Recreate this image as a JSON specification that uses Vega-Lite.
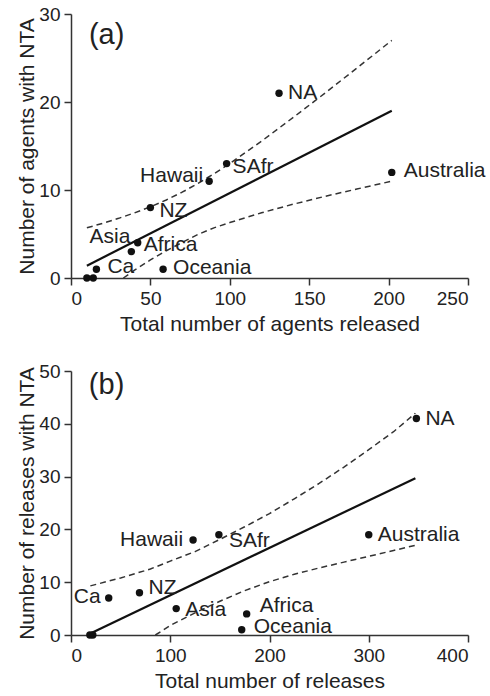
{
  "$schema": "https://vega.github.io/schema/vega-lite/v6.json",
  "background": "white",
  "padding": {"left": 16, "top": 5, "right": 0, "bottom": 5},
  "spacing": 28,
  "config": {
    "font": "Liberation Sans",
    "view": {"stroke": null},
    "axis": {
      "grid": false,
      "domainColor": "#333",
      "domainWidth": 1.5,
      "tickColor": "#333",
      "tickWidth": 1.5,
      "tickSize": 7,
      "labelFont": "Liberation Sans",
      "labelFontSize": 19,
      "labelColor": "#222",
      "labelPadding": 4,
      "titleFont": "Liberation Sans",
      "titleFontSize": 21,
      "titleFontWeight": "normal",
      "titleColor": "#222"
    },
    "text": {"font": "Liberation Sans", "fontSize": 21, "color": "#222", "baseline": "middle"}
  },
  "datasets": {
    "a_pts": [
      {"region": null, "agents": 10, "nta": 0},
      {"region": null, "agents": 14, "nta": 0},
      {"region": "Ca", "agents": 16, "nta": 1},
      {"region": "Asia", "agents": 38, "nta": 3},
      {"region": "Africa", "agents": 42, "nta": 4},
      {"region": "NZ", "agents": 50, "nta": 8},
      {"region": "Oceania", "agents": 58, "nta": 1},
      {"region": "Hawaii", "agents": 87, "nta": 11},
      {"region": "SAfr", "agents": 98, "nta": 13},
      {"region": "NA", "agents": 131, "nta": 21},
      {"region": "Australia", "agents": 202, "nta": 12}
    ],
    "a_fit": [
      {"agents": 10, "nta": 1.4},
      {"agents": 202, "nta": 19}
    ],
    "a_band": [
      {"curve": "upper", "agents": 10, "nta": 5.7},
      {"curve": "upper", "agents": 20, "nta": 6.22},
      {"curve": "upper", "agents": 30, "nta": 6.78},
      {"curve": "upper", "agents": 40, "nta": 7.4},
      {"curve": "upper", "agents": 50, "nta": 8.09},
      {"curve": "upper", "agents": 60, "nta": 8.87},
      {"curve": "upper", "agents": 70, "nta": 9.75},
      {"curve": "upper", "agents": 80, "nta": 10.75},
      {"curve": "upper", "agents": 90, "nta": 11.84},
      {"curve": "upper", "agents": 100, "nta": 13.02},
      {"curve": "upper", "agents": 120, "nta": 15.55},
      {"curve": "upper", "agents": 140, "nta": 18.25},
      {"curve": "upper", "agents": 160, "nta": 21.02},
      {"curve": "upper", "agents": 180, "nta": 23.85},
      {"curve": "upper", "agents": 202, "nta": 27.0},
      {"curve": "lower", "agents": 33, "nta": 0},
      {"curve": "lower", "agents": 40, "nta": 0.9},
      {"curve": "lower", "agents": 50, "nta": 2.05},
      {"curve": "lower", "agents": 60, "nta": 3.1},
      {"curve": "lower", "agents": 70, "nta": 4.04},
      {"curve": "lower", "agents": 80, "nta": 4.95},
      {"curve": "lower", "agents": 90, "nta": 5.7},
      {"curve": "lower", "agents": 100, "nta": 6.3},
      {"curve": "lower", "agents": 120, "nta": 7.41},
      {"curve": "lower", "agents": 140, "nta": 8.39},
      {"curve": "lower", "agents": 160, "nta": 9.28},
      {"curve": "lower", "agents": 180, "nta": 10.11},
      {"curve": "lower", "agents": 202, "nta": 11.0}
    ],
    "a_tag": [
      {"panel": "(a)", "agents": 11.3, "nta": 27.6}
    ],
    "b_pts": [
      {"region": null, "releases": 19, "nta": 0},
      {"region": null, "releases": 22, "nta": 0},
      {"region": "Ca", "releases": 38, "nta": 7},
      {"region": "NZ", "releases": 69, "nta": 8},
      {"region": "Asia", "releases": 106, "nta": 5},
      {"region": "Hawaii", "releases": 123, "nta": 18},
      {"region": "SAfr", "releases": 149, "nta": 19},
      {"region": "Oceania", "releases": 172, "nta": 1},
      {"region": "Africa", "releases": 177, "nta": 4},
      {"region": "Australia", "releases": 300, "nta": 19},
      {"region": "NA", "releases": 348, "nta": 41}
    ],
    "b_fit": [
      {"releases": 19.5, "nta": 0.3},
      {"releases": 347, "nta": 29.7}
    ],
    "b_band": [
      {"curve": "upper", "releases": 19.5, "nta": 9.3},
      {"curve": "upper", "releases": 50, "nta": 10.8},
      {"curve": "upper", "releases": 80, "nta": 12.5},
      {"curve": "upper", "releases": 100, "nta": 14.0},
      {"curve": "upper", "releases": 125, "nta": 15.8},
      {"curve": "upper", "releases": 150, "nta": 18.1},
      {"curve": "upper", "releases": 175, "nta": 20.5},
      {"curve": "upper", "releases": 200, "nta": 23.0},
      {"curve": "upper", "releases": 225, "nta": 25.8},
      {"curve": "upper", "releases": 250, "nta": 28.7},
      {"curve": "upper", "releases": 275, "nta": 31.8},
      {"curve": "upper", "releases": 300, "nta": 35.1},
      {"curve": "upper", "releases": 325, "nta": 38.5},
      {"curve": "upper", "releases": 347, "nta": 42.0},
      {"curve": "lower", "releases": 85, "nta": 0},
      {"curve": "lower", "releases": 100, "nta": 1.8},
      {"curve": "lower", "releases": 125, "nta": 4.2},
      {"curve": "lower", "releases": 150, "nta": 6.4},
      {"curve": "lower", "releases": 175, "nta": 8.4},
      {"curve": "lower", "releases": 200, "nta": 10.1},
      {"curve": "lower", "releases": 225, "nta": 11.5},
      {"curve": "lower", "releases": 250, "nta": 12.7},
      {"curve": "lower", "releases": 275, "nta": 13.8},
      {"curve": "lower", "releases": 300, "nta": 14.9},
      {"curve": "lower", "releases": 325, "nta": 16.0},
      {"curve": "lower", "releases": 347, "nta": 17.0}
    ],
    "b_tag": [
      {"panel": "(b)", "releases": 18, "nta": 47.4}
    ]
  },
  "vconcat": [
    {
      "width": 397,
      "height": 264,
      "encoding": {
        "x": {"field": "agents", "type": "quantitative", "scale": {"domain": [0, 250], "nice": false},
              "axis": {"values": [0, 50, 100, 150, 200, 250], "title": "Total number of agents released", "titlePadding": 5}},
        "y": {"field": "nta", "type": "quantitative", "scale": {"domain": [0, 30], "nice": false},
              "axis": {"values": [0, 10, 20, 30], "title": "Number of agents with NTA", "titlePadding": 1}}
      },
      "layer": [
        {"data": {"name": "a_band"}, "mark": {"type": "line", "color": "#333", "strokeWidth": 1.5, "strokeDash": [6, 4]},
         "encoding": {"detail": {"field": "curve"}}},
        {"data": {"name": "a_fit"}, "mark": {"type": "line", "color": "#111", "strokeWidth": 2.2}},
        {"data": {"name": "a_pts"}, "mark": {"type": "circle", "color": "#111", "opacity": 1, "size": 55}},
        {"data": {"name": "a_pts"}, "transform": [{"filter": "datum.region == 'NA'"}],
         "mark": {"type": "text", "align": "left", "dx": 9, "dy": 0}, "encoding": {"text": {"field": "region"}}},
        {"data": {"name": "a_pts"}, "transform": [{"filter": "datum.region == 'SAfr'"}],
         "mark": {"type": "text", "align": "left", "dx": 6, "dy": 3}, "encoding": {"text": {"field": "region"}}},
        {"data": {"name": "a_pts"}, "transform": [{"filter": "datum.region == 'Hawaii'"}],
         "mark": {"type": "text", "align": "right", "dx": -6, "dy": -5}, "encoding": {"text": {"field": "region"}}},
        {"data": {"name": "a_pts"}, "transform": [{"filter": "datum.region == 'NZ'"}],
         "mark": {"type": "text", "align": "left", "dx": 9, "dy": 3}, "encoding": {"text": {"field": "region"}}},
        {"data": {"name": "a_pts"}, "transform": [{"filter": "datum.region == 'Asia'"}],
         "mark": {"type": "text", "align": "right", "dx": -1, "dy": -15}, "encoding": {"text": {"field": "region"}}},
        {"data": {"name": "a_pts"}, "transform": [{"filter": "datum.region == 'Africa'"}],
         "mark": {"type": "text", "align": "left", "dx": 6, "dy": 2}, "encoding": {"text": {"field": "region"}}},
        {"data": {"name": "a_pts"}, "transform": [{"filter": "datum.region == 'Ca'"}],
         "mark": {"type": "text", "align": "left", "dx": 11, "dy": -2}, "encoding": {"text": {"field": "region"}}},
        {"data": {"name": "a_pts"}, "transform": [{"filter": "datum.region == 'Oceania'"}],
         "mark": {"type": "text", "align": "left", "dx": 10, "dy": -1}, "encoding": {"text": {"field": "region"}}},
        {"data": {"name": "a_pts"}, "transform": [{"filter": "datum.region == 'Australia'"}],
         "mark": {"type": "text", "align": "left", "dx": 12, "dy": -1}, "encoding": {"text": {"field": "region"}}},
        {"data": {"name": "a_tag"},
         "mark": {"type": "text", "align": "left", "fontSize": 29},
         "encoding": {"text": {"field": "panel"}}}
      ]
    },
    {
      "width": 397,
      "height": 264,
      "encoding": {
        "x": {"field": "releases", "type": "quantitative", "scale": {"domain": [0, 400], "nice": false},
              "axis": {"values": [0, 100, 200, 300, 400], "title": "Total number of releases", "titlePadding": 5}},
        "y": {"field": "nta", "type": "quantitative", "scale": {"domain": [0, 50], "nice": false},
              "axis": {"values": [0, 10, 20, 30, 40, 50], "title": "Number of releases with NTA", "titlePadding": 1}}
      },
      "layer": [
        {"data": {"name": "b_band"}, "mark": {"type": "line", "color": "#333", "strokeWidth": 1.5, "strokeDash": [6, 4]},
         "encoding": {"detail": {"field": "curve"}}},
        {"data": {"name": "b_fit"}, "mark": {"type": "line", "color": "#111", "strokeWidth": 2.2}},
        {"data": {"name": "b_pts"}, "mark": {"type": "circle", "color": "#111", "opacity": 1, "size": 55}},
        {"data": {"name": "b_pts"}, "transform": [{"filter": "datum.region == 'NA' || datum.region == 'Australia'"}],
         "mark": {"type": "text", "align": "left", "dx": 9, "dy": 0}, "encoding": {"text": {"field": "region"}}},
        {"data": {"name": "b_pts"}, "transform": [{"filter": "datum.region == 'SAfr'"}],
         "mark": {"type": "text", "align": "left", "dx": 10, "dy": 6}, "encoding": {"text": {"field": "region"}}},
        {"data": {"name": "b_pts"}, "transform": [{"filter": "datum.region == 'Hawaii'"}],
         "mark": {"type": "text", "align": "right", "dx": -10, "dy": 0}, "encoding": {"text": {"field": "region"}}},
        {"data": {"name": "b_pts"}, "transform": [{"filter": "datum.region == 'Ca'"}],
         "mark": {"type": "text", "align": "right", "dx": -8, "dy": -1}, "encoding": {"text": {"field": "region"}}},
        {"data": {"name": "b_pts"}, "transform": [{"filter": "datum.region == 'NZ'"}],
         "mark": {"type": "text", "align": "left", "dx": 9, "dy": -5}, "encoding": {"text": {"field": "region"}}},
        {"data": {"name": "b_pts"}, "transform": [{"filter": "datum.region == 'Asia'"}],
         "mark": {"type": "text", "align": "left", "dx": 9, "dy": 1}, "encoding": {"text": {"field": "region"}}},
        {"data": {"name": "b_pts"}, "transform": [{"filter": "datum.region == 'Africa'"}],
         "mark": {"type": "text", "align": "left", "dx": 13, "dy": -8}, "encoding": {"text": {"field": "region"}}},
        {"data": {"name": "b_pts"}, "transform": [{"filter": "datum.region == 'Oceania'"}],
         "mark": {"type": "text", "align": "left", "dx": 12, "dy": -3}, "encoding": {"text": {"field": "region"}}},
        {"data": {"name": "b_tag"},
         "mark": {"type": "text", "align": "left", "fontSize": 29},
         "encoding": {"text": {"field": "panel"}}}
      ]
    }
  ]
}
